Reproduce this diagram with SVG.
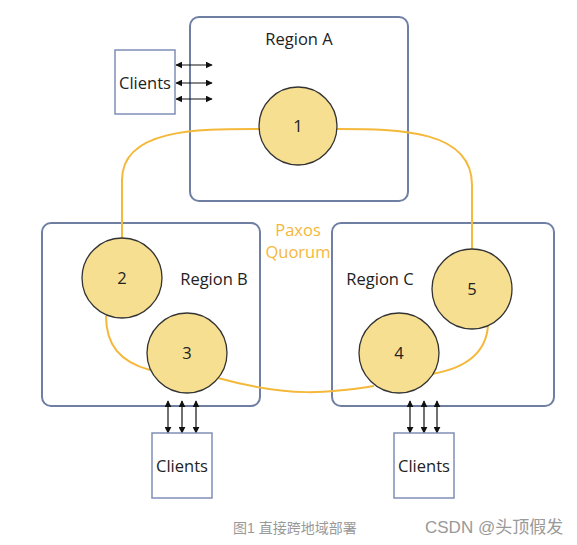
<svg xmlns="http://www.w3.org/2000/svg" width="577" height="545" viewBox="0 0 577 545">
<defs>
<marker id="ah" viewBox="0 0 10 10" refX="9" refY="5" markerWidth="7" markerHeight="7" markerUnits="userSpaceOnUse" orient="auto-start-reverse">
<path d="M0,0 L10,5 L0,10 z" fill="#111"/>
</marker>
<style>
.region{fill:#fff;stroke:#6f7fa3;stroke-width:2}
.client{fill:#fff;stroke:#7f8fb7;stroke-width:1.5}
.node{fill:#f7df91;stroke:#333;stroke-width:1.3}
.lbl{font-family:"Open Sans","Noto Sans","Liberation Sans",sans-serif;font-size:16.5px;fill:#222;text-anchor:middle}
.num{font-family:"Open Sans","Noto Sans","Liberation Sans",sans-serif;font-size:16.5px;fill:#222;text-anchor:middle}
.arr{stroke:#111;stroke-width:1.2;fill:none;marker-start:url(#ah);marker-end:url(#ah)}
.quorum{fill:none;stroke:#f4b83a;stroke-width:2}
.cap{font-family:"Liberation Sans","Noto Sans CJK SC",sans-serif;fill:#999}
</style>
</defs>
<g id="regionA"><rect class="region" x="190" y="17" width="218" height="184" rx="9"/><text class="lbl" x="299" y="45">Region A</text></g>
<g id="regionB"><rect class="region" x="42" y="223" width="218" height="183" rx="9"/><text class="lbl" x="214" y="285">Region B</text></g>
<g id="regionC"><rect class="region" x="332" y="223" width="222" height="183" rx="9"/><text class="lbl" x="380" y="285">Region C</text></g>
<g id="connectors">
<path class="quorum" d="M259,129 C200,129 122,128 122,180 L122,238"/>
<path class="quorum" d="M337,129 C400,129 472,130 472,185 L472,249"/>
<path class="quorum" d="M488,325 C486,360 455,370 432,374"/>
<path class="quorum" d="M374,386 C330,393 290,398 218,378"/>
<path class="quorum" d="M150,370 C120,362 106,345 106,316"/>
<line class="arr" x1="176" y1="65" x2="212" y2="65"/>
<line class="arr" x1="176" y1="83" x2="212" y2="83"/>
<line class="arr" x1="176" y1="99" x2="212" y2="99"/>
<line class="arr" x1="168" y1="401" x2="168" y2="433"/>
<line class="arr" x1="182" y1="401" x2="182" y2="433"/>
<line class="arr" x1="196" y1="401" x2="196" y2="433"/>
<line class="arr" x1="410" y1="401" x2="410" y2="433"/>
<line class="arr" x1="424" y1="401" x2="424" y2="433"/>
<line class="arr" x1="437" y1="401" x2="437" y2="433"/>
</g>
<g id="quorumLabel"><text class="lbl" x="298" y="236" style="fill:#f4b83a">Paxos</text><text class="lbl" x="298" y="258" style="fill:#f4b83a">Quorum</text></g>
<g id="n1"><circle class="node" cx="298" cy="126" r="39"/><text class="num" x="298" y="132">1</text></g>
<g id="n2"><circle class="node" cx="122" cy="278" r="40"/><text class="num" x="122" y="284">2</text></g>
<g id="n3"><circle class="node" cx="187" cy="353" r="40"/><text class="num" x="187" y="359">3</text></g>
<g id="n4"><circle class="node" cx="399" cy="353" r="40"/><text class="num" x="399" y="359">4</text></g>
<g id="n5"><circle class="node" cx="472" cy="289" r="40"/><text class="num" x="472" y="295">5</text></g>
<g id="clientsA"><rect class="client" x="115" y="50" width="60" height="64"/><text class="lbl" x="145" y="89">Clients</text></g>
<g id="clientsB"><rect class="client" x="152" y="433" width="60" height="65"/><text class="lbl" x="182" y="472">Clients</text></g>
<g id="clientsC"><rect class="client" x="394" y="433" width="60" height="65"/><text class="lbl" x="424" y="472">Clients</text></g>
<text class="cap" x="233" y="533" font-size="14">图1 直接跨地域部署</text>
<text class="cap" x="425" y="533" font-size="17">CSDN @头顶假发</text>
</svg>
